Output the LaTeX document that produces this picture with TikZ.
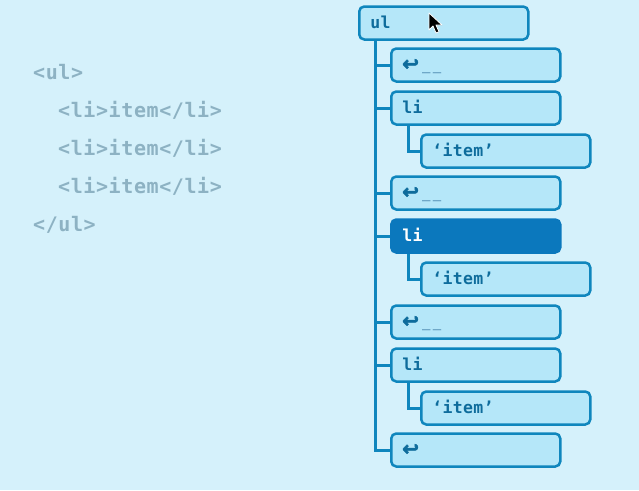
\documentclass[tikz,border=0pt]{standalone}
\usepackage{fontspec}
\newfontfamily\codefont{DejaVu Sans Mono}[LetterSpace=3]
\newfontfamily\boxfont{DejaVu Sans Mono}[LetterSpace=2]
\newfontfamily\symfont{DejaVu Sans}[FakeBold=2.5]
\definecolor{bgblue}{HTML}{D5F1FB}
\definecolor{boxfill}{HTML}{B5E7F9}
\definecolor{lineblue}{HTML}{0F86BD}
\definecolor{textblue}{HTML}{0E6C9C}
\definecolor{darkbox}{HTML}{0B78BD}
\definecolor{codegray}{HTML}{8DB2C3}
\definecolor{dashblue}{HTML}{6FA8C8}
\newcommand\retsym{{\symfont\fontsize{20}{17}\selectfont ↩}}
\newcommand\gap{{\color{dashblue}\fontsize{14}{17}\selectfont\kern3pt\_\kern2.5pt\_}}
\tikzset{
  domnode/.style={draw=lineblue, line width=2.5pt, fill=boxfill, rounded corners=5pt,
    minimum height=33pt, text width=147pt, inner xsep=11pt, text height=11pt, text depth=0pt,
    align=left, anchor=west, text=textblue,
    font=\fontsize{16.5}{18}\selectfont\boxfont\bfseries},
  domsel/.style={domnode, fill=darkbox, draw=darkbox, text=white},
  tree/.style={draw=lineblue, line width=3pt},
  code/.style={anchor=base west, inner sep=0pt, text=codegray,
    font=\fontsize{20}{22}\selectfont\codefont\bfseries}
}
\begin{document}
\begin{tikzpicture}[x=1pt,y=-1pt]
  \fill[bgblue] (0,0) rectangle (639,490);
  \useasboundingbox (0,0) rectangle (639,490);

  % source
  \node[code] (c1) at (33,79) {<ul>};
  \node[code] (c2) at (58,117) {<li>item</li>};
  \node[code] (c3) at (58,155) {<li>item</li>};
  \node[code] (c4) at (58,193) {<li>item</li>};
  \node[code] (c5) at (33,231) {</ul>};

  % tree
  \node[domnode] (ul) at (358,23) {ul};
  \node[domnode] (nl1) at (390,65) {\retsym\gap};
  \node[domnode] (li1) at (390,108) {li};
  \node[domnode] (txt1) at (420,151) {‘item’};
  \node[domnode] (nl2) at (390,193) {\retsym\gap};
  \node[domsel] (li2) at (390,236) {li};
  \node[domnode] (txt2) at (420,279) {‘item’};
  \node[domnode] (nl3) at (390,322) {\retsym\gap};
  \node[domnode] (li3) at (390,365) {li};
  \node[domnode] (txt3) at (420,408) {‘item’};
  \node[domnode] (nl4) at (390,450) {\retsym};

  \coordinate (ulfoot) at ([xshift=17pt]ul.south west);
  \foreach \n in {nl1,li1,nl2,li2,nl3,li3,nl4}
    \draw[tree] (ulfoot) |- (\n.west);
  \foreach \i in {1,2,3}
    \draw[tree] ([xshift=18pt]li\i.south west) |- (txt\i.west);

  % pointer
  \draw[fill=black, draw=white, line width=0.8pt, line join=round]
    (429,13) -- ++(0,17) -- ++(4,-4) -- ++(3,7) -- ++(3,-1.3) -- ++(-3,-6.7) -- ++(6,0) -- cycle;
\end{tikzpicture}
\end{document}
